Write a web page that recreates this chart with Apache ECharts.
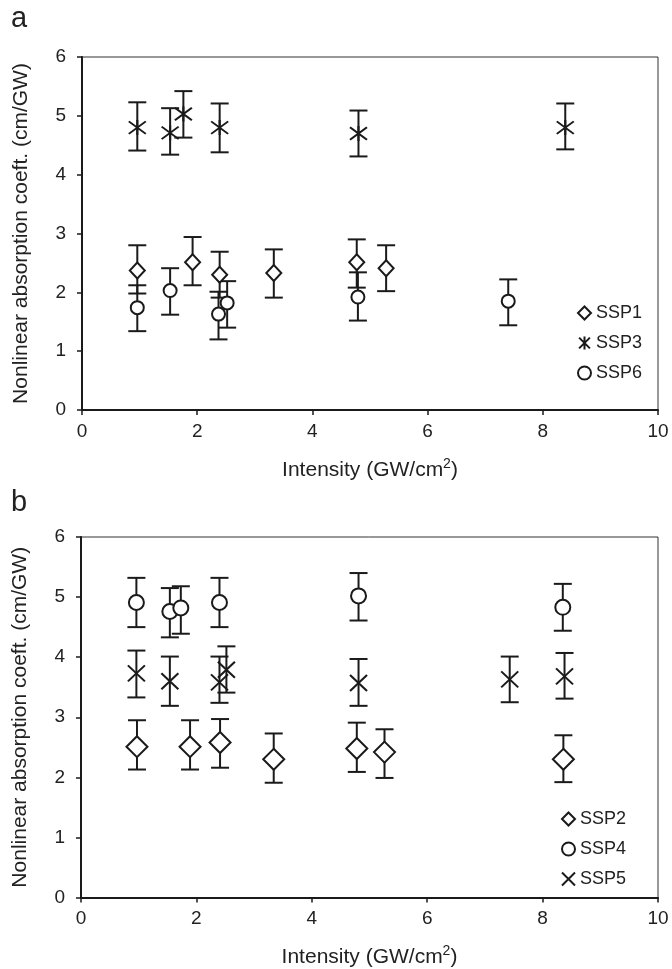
<!DOCTYPE html>
<html>
<head>
<meta charset="utf-8">
<script src="https://cdn.jsdelivr.net/npm/echarts@6/dist/echarts.min.js"></script>
<style>
    html, body { margin: 0; padding: 0; background: #fff; }
    #chart { width: 672px; height: 969px; }
</style>
</head>
<body>
<div id="chart"></div>
<script>
// panel a  -- [intensity, coeff]
const ssp1 = [[0.96, 2.37], [1.92, 2.51], [2.39, 2.30], [3.33, 2.33], [4.77, 2.51], [5.28, 2.41]];
const ssp1Err = [[0.96, 1.98, 2.80], [1.92, 2.12, 2.94], [2.39, 1.91, 2.69], [3.33, 1.91, 2.73], [4.77, 2.08, 2.90], [5.28, 2.02, 2.80]];
const ssp3 = [[0.96, 4.80], [1.53, 4.71], [1.76, 5.03], [2.39, 4.80], [4.80, 4.70], [8.39, 4.80]];
const ssp3Err = [[0.96, 4.41, 5.23], [1.53, 4.34, 5.13], [1.76, 4.63, 5.42], [2.39, 4.38, 5.21], [4.80, 4.31, 5.09], [8.39, 4.43, 5.21]];
const ssp6 = [[0.96, 1.74], [1.53, 2.03], [2.37, 1.63], [2.52, 1.82], [4.79, 1.92], [7.40, 1.85]];
const ssp6Err = [[0.96, 1.34, 2.12], [1.53, 1.62, 2.41], [2.37, 1.20, 2.01], [2.52, 1.40, 2.19], [4.79, 1.52, 2.34], [7.40, 1.44, 2.22]];

// panel b
const ssp2 = [[0.97, 2.51], [1.89, 2.51], [2.41, 2.58], [3.34, 2.30], [4.78, 2.48], [5.26, 2.42], [8.36, 2.30]];
const ssp2Err = [[0.97, 2.13, 2.95], [1.89, 2.13, 2.95], [2.41, 2.16, 2.97], [3.34, 1.91, 2.73], [4.78, 2.09, 2.91], [5.26, 1.99, 2.80], [8.36, 1.92, 2.70]];
const ssp4 = [[0.96, 4.91], [1.54, 4.76], [1.73, 4.82], [2.40, 4.91], [4.81, 5.02], [8.35, 4.83]];
const ssp4Err = [[0.96, 4.50, 5.32], [1.54, 4.33, 5.15], [1.73, 4.39, 5.18], [2.40, 4.50, 5.32], [4.81, 4.61, 5.40], [8.35, 4.44, 5.22]];
const ssp5 = [[0.96, 3.73], [1.54, 3.60], [2.40, 3.58], [2.52, 3.79], [4.81, 3.57], [7.43, 3.63], [8.38, 3.68]];
const ssp5Err = [[0.96, 3.33, 4.11], [1.54, 3.19, 4.01], [2.40, 3.24, 4.01], [2.52, 3.41, 4.18], [4.81, 3.19, 3.97], [7.43, 3.25, 4.01], [8.38, 3.31, 4.07]];

const INK = "#1a1a1a";
const TXT = "#222";
const FONT = "Liberation Sans";
const CAP = 9; // half width of error bar cap

const X_SYM = "path://M0,0L10,10M10,0L0,10";
const STAR_SYM = "path://M0,0L10,10M10,0L0,10M5,-1L5,11";

function errorBar(params, api) {
    const x = api.value(0);
    const top = api.coord([x, api.value(2)]);
    const bot = api.coord([x, api.value(1)]);
    const style = { stroke: INK, lineWidth: 2 };
    return {
        type: "group",
        children: [
            { type: "line", shape: { x1: top[0], y1: top[1], x2: bot[0], y2: bot[1] }, style },
            { type: "line", shape: { x1: top[0] - CAP, y1: top[1], x2: top[0] + CAP, y2: top[1] }, style },
            { type: "line", shape: { x1: bot[0] - CAP, y1: bot[1], x2: bot[0] + CAP, y2: bot[1] }, style },
        ],
    };
}

function errSeries(name, data, idx) {
    return {
        name,
        type: "custom",
        xAxisIndex: idx,
        yAxisIndex: idx,
        renderItem: errorBar,
        encode: { x: 0, y: [1, 2] },
        data,
        silent: true,
        z: 2,
    };
}

function markSeries(name, data, idx, symbol, size) {
    return {
        name,
        type: "scatter",
        xAxisIndex: idx,
        yAxisIndex: idx,
        symbol,
        symbolSize: size,
        data,
        itemStyle: {
            color: "#fff",
            borderColor: INK,
            borderWidth: 2,
            opacity: 1,
        },
        z: 3,
    };
}

function xAx(idx) {
    return {
        gridIndex: idx,
        type: "value",
        min: 0,
        max: 10,
        interval: 2,
        name: "Intensity (GW/cm{sup|2})",
        nameLocation: "middle",
        nameGap: 47,
        nameTextStyle: {
            fontFamily: FONT,
            fontSize: 21,
            color: TXT,
            rich: {
                sup: { fontSize: 14, verticalAlign: "top", padding: [0, 0, 12, 0], fontFamily: FONT, color: TXT },
            },
        },
        axisLine: { onZero: false, lineStyle: { color: INK, width: 2 } },
        axisTick: { show: true, inside: false, length: 5, lineStyle: { color: INK, width: 1.5 } },
        axisLabel: { fontFamily: FONT, fontSize: 19, color: TXT, margin: 12 },
        splitLine: { show: false },
    };
}

function yAx(idx) {
    return {
        gridIndex: idx,
        type: "value",
        min: 0,
        max: 6,
        interval: 1,
        name: "Nonlinear absorption coeft. (cm/GW)",
        nameLocation: "middle",
        nameGap: 50,
        nameTextStyle: { fontFamily: FONT, fontSize: 21, color: TXT },
        axisLine: { onZero: false, lineStyle: { color: INK, width: 2 } },
        axisTick: { show: true, inside: false, length: 5, lineStyle: { color: INK, width: 1.5 } },
        axisLabel: { fontFamily: FONT, fontSize: 19, color: TXT, margin: 16 },
        splitLine: { show: false },
    };
}

const legendCommon = {
    orient: "vertical",
    itemWidth: 13,
    itemHeight: 13,
    itemGap: 12,
    textStyle: { fontFamily: FONT, fontSize: 18, color: TXT },
    selectedMode: false,
};

const option = {
    animation: false,
    backgroundColor: "#fff",
    grid: [
        { left: 82, right: 14, top: 57, height: 353, show: true, borderColor: "#333", borderWidth: 1 },
        { left: 81, right: 14, top: 537, height: 361, show: true, borderColor: "#333", borderWidth: 1 },
    ],
    xAxis: [xAx(0), xAx(1)],
    yAxis: [yAx(0), yAx(1)],
    legend: [
        Object.assign({}, legendCommon, { left: 572, top: 299, data: ["SSP1", "SSP3", "SSP6"] }),
        Object.assign({}, legendCommon, { left: 556, top: 805, data: ["SSP2", "SSP4", "SSP5"] }),
    ],
    graphic: [
        { type: "text", left: 11, top: 4, style: { text: "a", fontFamily: FONT, fontSize: 29, fill: TXT } },
        { type: "text", left: 11, top: 488, style: { text: "b", fontFamily: FONT, fontSize: 29, fill: TXT } },
    ],
    series: [
        errSeries("e1", ssp1Err, 0),
        errSeries("e3", ssp3Err, 0),
        errSeries("e6", ssp6Err, 0),
        markSeries("SSP1", ssp1, 0, "diamond", [15, 16]),
        markSeries("SSP3", ssp3, 0, STAR_SYM, [17, 15]),
        markSeries("SSP6", ssp6, 0, "circle", 13),
        errSeries("e2", ssp2Err, 1),
        errSeries("e4", ssp4Err, 1),
        errSeries("e5", ssp5Err, 1),
        markSeries("SSP2", ssp2, 1, "diamond", [21, 21]),
        markSeries("SSP4", ssp4, 1, "circle", 15),
        markSeries("SSP5", ssp5, 1, X_SYM, [17, 16]),
    ],
};

const chart = echarts.init(document.getElementById("chart"));
chart.setOption(option);
</script>
</body>
</html>
